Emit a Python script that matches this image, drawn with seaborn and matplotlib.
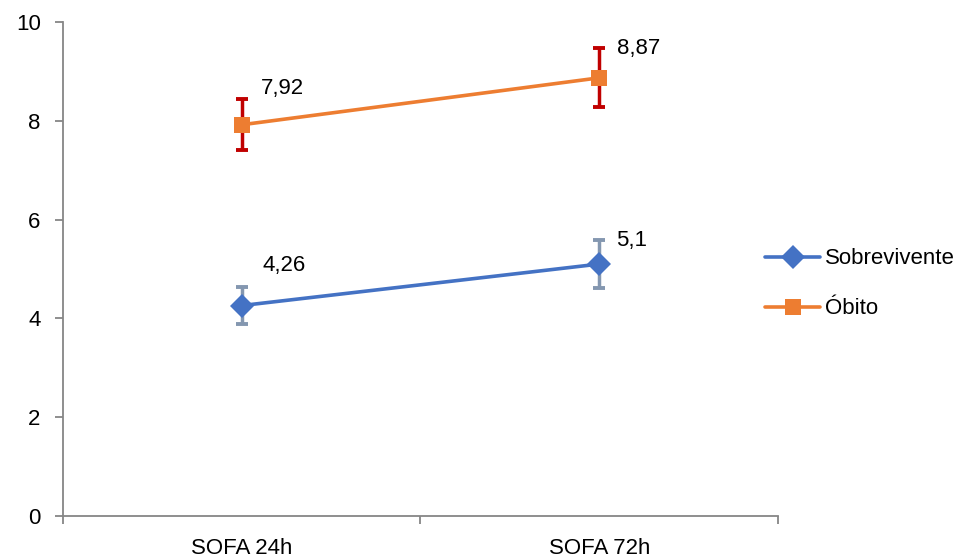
import matplotlib as mpl
mpl.use('Agg')
import matplotlib.pyplot as plt
import numpy as np
import pandas as pd
import seaborn as sns

# data
categories = ['SOFA 24h', 'SOFA 72h']
series_names = ['Sobrevivente', 'Óbito']
sobrevivente = [4.26, 5.1]
obito = [7.92, 8.87]
sobrevivente_err = [0.38, 0.49]
obito_err = [0.52, 0.6]
value_labels = {'Sobrevivente': ['4,26', '5,1'], 'Óbito': ['7,92', '8,87']}

line_colors = {'Sobrevivente': '#4472C4', 'Óbito': '#ED7D31'}
err_colors = {'Sobrevivente': '#8497B0', 'Óbito': '#C00000'}
markers = {'Sobrevivente': 'D', 'Óbito': 's'}
label_offsets = {'Sobrevivente': [(15, 29), (12, 17)], 'Óbito': [(14, 26), (13, 21)]}

df = pd.DataFrame({
    'categoria': categories * 2,
    'serie': [series_names[0]] * 2 + [series_names[1]] * 2,
    'valor': sobrevivente + obito,
})
errs = {'Sobrevivente': sobrevivente_err, 'Óbito': obito_err}

sns.set_style('white')
plt.rcParams['font.family'] = ['Liberation Sans', 'DejaVu Sans']
plt.rcParams['text.color'] = 'black'
plt.rcParams['xtick.labelcolor'] = 'black'
plt.rcParams['ytick.labelcolor'] = 'black'
fs = 16

fig = plt.figure(figsize=(9.67, 5.60), dpi=100)
ax = fig.add_axes([0.0651, 0.0786, 0.7395, 0.8821])

sns.lineplot(data=df, x='categoria', y='valor', hue='serie', style='serie',
             palette=line_colors, markers=markers, dashes=False,
             markersize=12, linewidth=2.6, markeredgewidth=0,
             ax=ax, zorder=3, sort=False)

xpos = np.arange(len(categories))
for name in series_names:
    vals = df.loc[df['serie'] == name, 'valor'].to_numpy()
    ax.errorbar(xpos, vals, yerr=errs[name], fmt='none', ecolor=err_colors[name],
                elinewidth=2.5, capsize=4.5, capthick=2.8, zorder=2)
    for i, v in enumerate(vals):
        ax.annotate(value_labels[name][i], (xpos[i], v),
                    xytext=label_offsets[name][i], textcoords='offset points',
                    ha='left', va='center', fontsize=fs, color='black')

ax.set_xlim(-0.5, 1.5)
ax.set_ylim(0, 10)
ax.set_yticks([0, 2, 4, 6, 8, 10])
ax.set_xticks(xpos)
ax.set_xticklabels(categories)
ax.set_xlabel('')
ax.set_ylabel('')

# category boundary ticks like the original
ax.set_xticks([-0.5, 0.5, 1.5], minor=True)
ax.tick_params(axis='x', which='major', length=0, labelsize=fs, pad=16)
ax.tick_params(axis='x', which='minor', length=6, width=1.3, color='#868686', direction='out')
ax.tick_params(axis='y', length=6, width=1.3, color='#868686', direction='out',
               labelsize=fs, pad=10)
ax.xaxis.set_ticks_position('bottom')
ax.yaxis.set_ticks_position('left')

for side in ['top', 'right']:
    ax.spines[side].set_visible(False)
for side in ['left', 'bottom']:
    ax.spines[side].set_color('#868686')
    ax.spines[side].set_linewidth(1.3)

leg = ax.legend(loc='center left', bbox_to_anchor=(0.791, 0.493),
                bbox_transform=fig.transFigure, frameon=False, borderpad=0,
                borderaxespad=0, fontsize=fs, handlelength=2.5, handletextpad=0.2,
                labelspacing=1.3)
for t in leg.get_texts():
    t.set_color('black')

plt.savefig('out.png', dpi=100)
